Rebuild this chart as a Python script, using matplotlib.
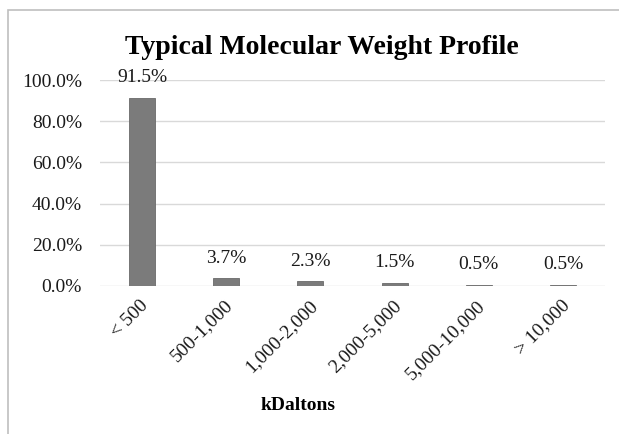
import matplotlib.pyplot as plt
import matplotlib.transforms as mtransforms
from matplotlib.patches import Rectangle
from matplotlib.ticker import PercentFormatter

categories = ['< 500', '500-1,000', '1,000-2,000', '2,000-5,000', '5,000-10,000', '> 10,000']
values = [91.5, 3.7, 2.3, 1.5, 0.5, 0.5]
yticks = [0, 20, 40, 60, 80, 100]

plt.rcParams['font.family'] = ['Liberation Serif', 'DejaVu Serif']

fig = plt.figure(figsize=(6.19, 4.34), dpi=100)
ax = fig.add_axes([100/619, 1 - 286/434, 505/619, 206/434])

# chart border (left and top edges visible)
fig.patches.append(Rectangle((8/619, -0.1), 1.2, 1 - 10/434 + 0.1,
                             transform=fig.transFigure, fill=False,
                             edgecolor='#bfbfbf', linewidth=1.2))

x = range(len(categories))
ax.bar(x, values, width=0.31, color='#7b7b7b', edgecolor='#6a6a6a', linewidth=0.6, zorder=3)

for xi, v in zip(x, values):
    ax.annotate(f'{v:.1f}%', (xi, v), xytext=(0, 14.5), textcoords='offset points',
                ha='center', va='center', fontsize=14, color='#1a1a1a')

ax.set_xlim(-0.5, len(categories) - 0.5)
ax.set_ylim(0, 100)
ax.set_yticks(yticks)
ax.yaxis.set_major_formatter(PercentFormatter(decimals=1))
ax.grid(axis='y', color='#d9d9d9', linewidth=1.0, zorder=0)
ax.set_axisbelow(True)
for s in ax.spines.values():
    s.set_visible(False)
ax.tick_params(axis='both', length=0, labelsize=14, labelcolor='#1a1a1a')
ax.tick_params(axis='y', pad=13)
ax.tick_params(axis='x', pad=12)

ax.set_xticks(list(x))
ax.set_xticklabels(categories, rotation=45, ha='right', va='center', rotation_mode='anchor')
offset = mtransforms.ScaledTranslation(4/100, 0, fig.dpi_scale_trans)
for lbl in ax.get_xticklabels():
    lbl.set_transform(lbl.get_transform() + offset)

fig.text(322/619, 1 - 48/434, 'Typical Molecular Weight Profile', ha='center', va='center',
         fontsize=20, fontweight='bold')
fig.text(298/619, 1 - 405/434, 'kDaltons', ha='center', va='center',
         fontsize=14, fontweight='bold')

fig.savefig('out.png', dpi=100)
